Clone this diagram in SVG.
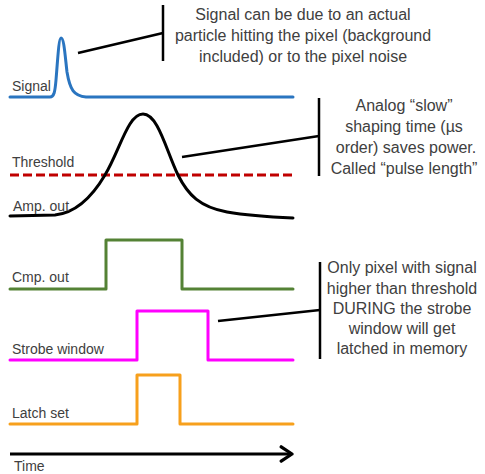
<svg xmlns="http://www.w3.org/2000/svg" width="485" height="474" viewBox="0 0 485 474">
  <style>
    .lbl { font-family: "Liberation Sans", Arial, sans-serif; font-size: 14px; fill: #404040; }
    .note { font-family: "Liberation Sans", Arial, sans-serif; font-size: 16px; fill: #404040; text-anchor: middle; }
    .wave { fill: none; stroke-width: 3; stroke-linejoin: round; stroke-linecap: round; }
    .callout { fill: none; stroke: #000; stroke-width: 2.5; }
  </style>
  <defs>
    <marker id="chev" viewBox="0 0 10 10" refX="8" refY="5" markerWidth="6" markerHeight="6" orient="auto" markerUnits="strokeWidth">
      <path d="M2,1 L8,5 L2,9" fill="none" stroke="#000" stroke-width="1.8" stroke-linecap="round" stroke-linejoin="round"/>
    </marker>
  </defs>
  <rect width="485" height="474" fill="#fff"/>

  <!-- signal trace -->
  <g id="signal">
    <path class="wave" stroke="#2a75c0" d="M10,97 L50,97 C54,97 55,92 56,80 C58,55 59,38 61,38 C64,38 65,55 67,72 C70,90 74,96 86,97 L293,97"/>
    <text class="lbl" x="12" y="91">Signal</text>
  </g>

  <!-- threshold level -->
  <g id="threshold">
    <line x1="10" y1="175" x2="293" y2="175" stroke="#c00000" stroke-width="3" stroke-dasharray="9 4"/>
    <text class="lbl" x="12" y="167">Threshold</text>
  </g>

  <!-- shaped amplifier output -->
  <g id="amp-out">
    <path class="wave" stroke="#000" d="M10,216 L55,215 C75,213 92,197 105,175 C120,150 128,114 143,114 C158,114 166,150 178,175 C188,195 200,207 227,212 C250,216 270,217 293,218"/>
    <text class="lbl" x="13" y="211">Amp. out</text>
  </g>

  <!-- comparator output -->
  <g id="cmp-out">
    <path class="wave" stroke="#548235" d="M10,289 L106,289 L106,240 L182,240 L182,289 L293,289"/>
    <text class="lbl" x="12" y="282">Cmp. out</text>
  </g>

  <!-- strobe window -->
  <g id="strobe">
    <path class="wave" stroke="#ff00ff" d="M10,360 L137,360 L137,311 L208,311 L208,360 L293,360"/>
    <text class="lbl" x="12" y="354">Strobe window</text>
  </g>

  <!-- latch -->
  <g id="latch">
    <path class="wave" stroke="#f7a01c" d="M10,424 L137,424 L137,375 L180,375 L180,424 L293,424"/>
    <text class="lbl" x="12" y="418">Latch set</text>
  </g>

  <!-- time axis -->
  <g id="time">
    <line x1="10" y1="454" x2="292" y2="454" stroke="#000" stroke-width="3" marker-end="url(#chev)"/>
    <text class="lbl" x="14" y="471">Time</text>
  </g>

  <!-- annotation notes -->
  <g id="note-signal">
    <text class="note" x="303" y="20">Signal can be due to an actual</text>
    <text class="note" x="303" y="41">particle hitting the pixel (background</text>
    <text class="note" x="303" y="62">included) or to the pixel noise</text>
  </g>
  <g id="note-shaping">
    <text class="note" x="404" y="111">Analog “slow”</text>
    <text class="note" x="404" y="132">shaping time (µs</text>
    <text class="note" x="406" y="153">order) saves power.</text>
    <text class="note" x="404" y="174">Called “pulse length”</text>
  </g>
  <g id="note-strobe">
    <text class="note" x="402" y="273">Only pixel with signal</text>
    <text class="note" x="402" y="293.5">higher than threshold</text>
    <text class="note" x="402" y="314">DURING the strobe</text>
    <text class="note" x="402" y="334">window will get</text>
    <text class="note" x="402" y="354">latched in memory</text>
  </g>

  <!-- callout leaders -->
  <g id="connectors">
    <path class="callout" d="M78,53 L163,33"/>
    <path class="callout" d="M163,5 L163,61"/>
    <path class="callout" d="M182,157 L319,136"/>
    <path class="callout" d="M319,98 L319,176"/>
    <path class="callout" d="M218,321 L320,310"/>
    <path class="callout" d="M320,262 L320,359"/>
  </g>
</svg>
